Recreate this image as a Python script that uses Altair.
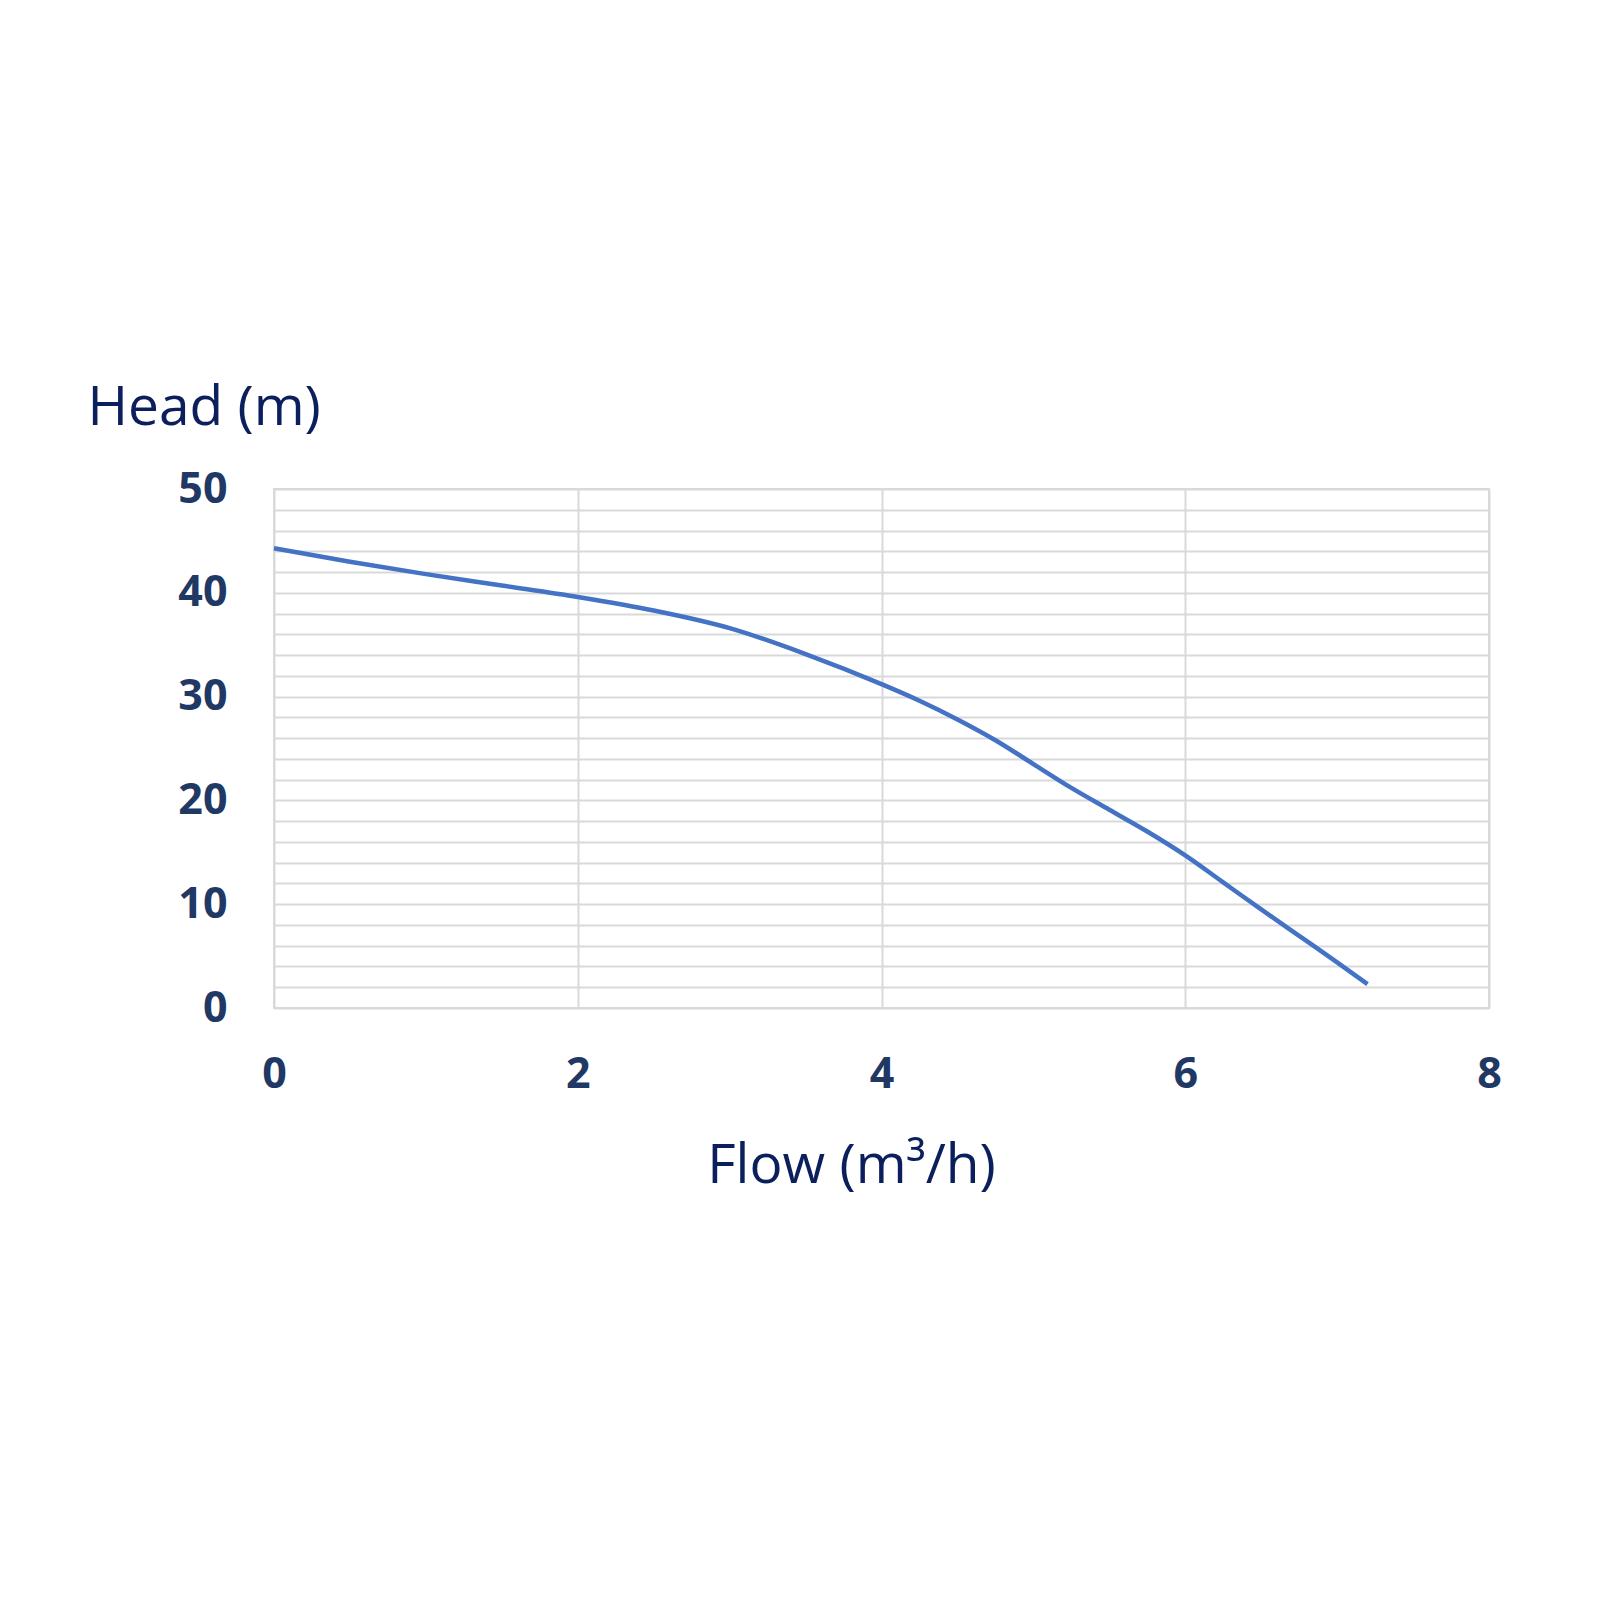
import altair as alt
import pandas as pd

flow = [0, 0.5, 1, 1.5, 2, 2.5, 3, 3.5, 4, 4.25, 4.5, 4.75, 5, 5.25, 5.5, 5.75, 6, 6.25, 6.5, 6.75, 7, 7.2]
head = [44.3, 43.0, 41.8, 40.7, 39.6, 38.3, 36.6, 34.1, 31.2, 29.6, 27.8, 25.8, 23.5, 21.2, 19.1, 17.0, 14.7, 12.1, 9.5, 6.95, 4.4, 2.3]
x_ticks = [0, 2, 4, 6, 8]
y_grid = list(range(0, 51, 2))

df = pd.DataFrame({"flow": flow, "head": head})

label_color = "#1f3864"
title_color = "#0a1f5c"

chart = alt.Chart(df).mark_line(
    color="#4472c4", strokeWidth=4.5, interpolate="monotone"
).encode(
    x=alt.X("flow:Q", scale=alt.Scale(domain=[0, 8], nice=False),
            axis=alt.Axis(values=x_ticks, title="Flow (m³/h)", grid=True,
                          gridColor="#d9d9d9", gridWidth=2, domain=False, ticks=False,
                          labelFlush=False,
                          labelFont="Open Sans", labelFontWeight="bold", labelFontSize=43,
                          labelColor=label_color, labelBaseline="alphabetic", labelPadding=79,
                          titleFont="Open Sans", titleFontWeight="normal", titleFontSize=55,
                          titleColor=title_color, titleX=577, titleY=174,
                          titleAlign="center", titleBaseline="alphabetic")),
    y=alt.Y("head:Q", scale=alt.Scale(domain=[0, 50], nice=False),
            axis=alt.Axis(values=y_grid, title="Head (m)", grid=True,
                          gridColor="#d9d9d9", gridWidth=2, domain=False, ticks=False,
                          labelExpr="datum.value % 10 == 0 ? datum.label : ''",
                          labelFont="Open Sans", labelFontWeight="bold", labelFontSize=43,
                          labelColor=label_color, labelPadding=47,
                          titleFont="Open Sans", titleFontWeight="normal", titleFontSize=55,
                          titleColor=title_color, titleAngle=0, titleX=-187, titleY=-65,
                          titleAlign="left", titleBaseline="alphabetic")),
).properties(
    width=1215, height=519,
    autosize=alt.AutoSizeParams(type="none"),
    padding={"left": 266, "top": 481, "right": 100, "bottom": 580},
).configure_view(stroke="#d9d9d9", strokeWidth=2)

chart.save("out.html", embed_options={"renderer": "svg", "actions": False})
